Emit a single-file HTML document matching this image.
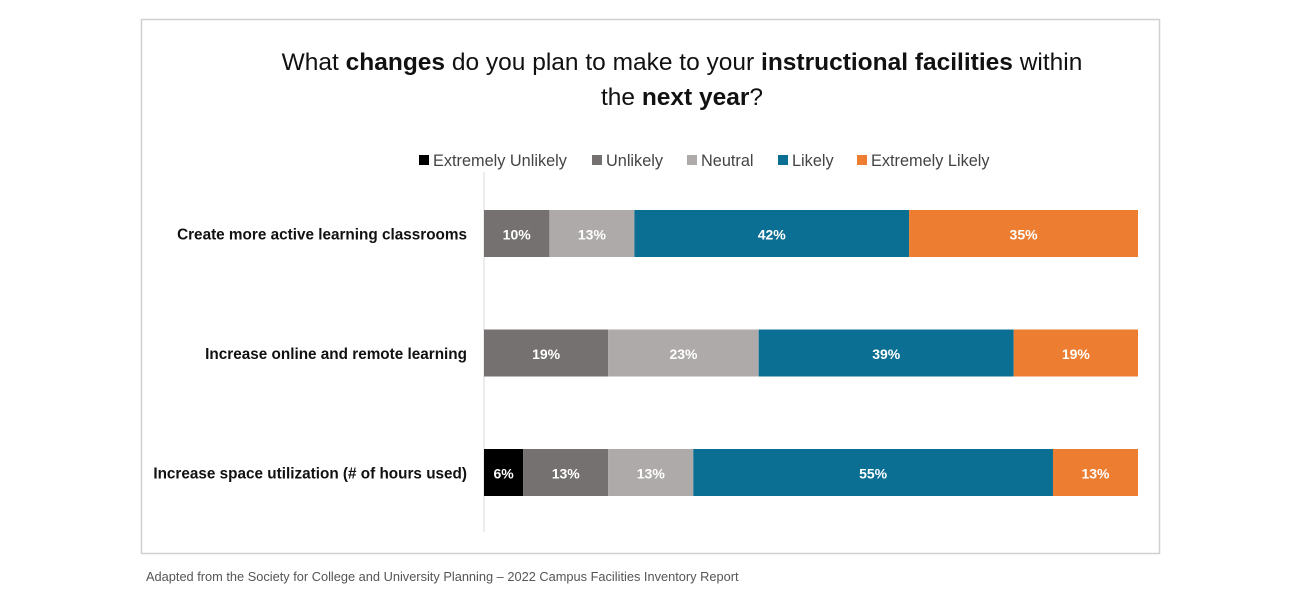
<!DOCTYPE html>
<html><head><meta charset="utf-8"><style>
body{margin:0;width:1300px;height:600px;background:#fff;font-family:"Liberation Sans",sans-serif;overflow:hidden}
</style></head><body>
<svg id="c" width="1300" height="600" xmlns="http://www.w3.org/2000/svg">
<rect x="141.5" y="19.5" width="1018" height="534" fill="#fff" stroke="#d0d0d0" stroke-width="1.5"/>
<text x="682" y="70" text-anchor="middle" font-size="24.5" fill="#111">What <tspan font-weight="bold">changes</tspan> do you plan to make to your <tspan font-weight="bold">instructional facilities</tspan> within</text>
<text x="682" y="105" text-anchor="middle" font-size="24.5" fill="#111">the <tspan font-weight="bold">next year</tspan>?</text>
<line x1="484" y1="172" x2="484" y2="532" stroke="#d9d9d9" stroke-width="1"/>
<text x="146" y="581" font-size="12.8" fill="#555">Adapted from the Society for College and University Planning – 2022 Campus Facilities Inventory Report</text>
<g id="legend"></g><g id="bars"></g>
</svg>
<script>
const categories=["Create more active learning classrooms","Increase online and remote learning","Increase space utilization (# of hours used)"];
const seriesNames=["Extremely Unlikely","Unlikely","Neutral","Likely","Extremely Likely"];
const extremelyUnlikely=[0,0,6];
const unlikely=[10,19,13];
const neutral=[13,23,13];
const likely=[42,39,55];
const extremelyLikely=[35,19,13];
const colors=["#000000","#767171","#aeaaaa","#0a6f93","#ed7d31"];
const series=[extremelyUnlikely,unlikely,neutral,likely,extremelyLikely];
const NS="http://www.w3.org/2000/svg";
const x0=484,plotW=654;
const xs=v=>v/100*plotW;
const yRow=i=>210+i*119.5;
const bh=47;
const bars=document.getElementById('bars');
function mk(tag,attrs,p){const e=document.createElementNS(NS,tag);for(const k in attrs)e.setAttribute(k,attrs[k]);p.appendChild(e);return e;}
categories.forEach((c,i)=>{
  const t=mk('text',{x:467,y:yRow(i)+bh/2+6,'text-anchor':'end','font-size':15.3,'font-weight':'bold',fill:'#111'},bars);
  t.textContent=c;
  
  
  let tot=0;
  series.forEach((s,j)=>{
    const v=s[i];
    if(v>0){
      const r=mk('rect',{x:x0+xs(tot),y:yRow(i),width:xs(v),height:bh,fill:colors[j]},bars);
      
      
      const l=mk('text',{x:x0+xs(tot+v/2),y:yRow(i)+bh/2+6,'text-anchor':'middle','font-size':14,'font-weight':'bold',fill:'#fff'},bars);
      l.textContent=v+'%';
      
      
    }
    tot+=v;
  });
});
const lg=document.getElementById('legend');
const legX=[419,592,687,778,857];
seriesNames.forEach((n,j)=>{
  const r=mk('rect',{x:legX[j],y:155,width:10,height:10,fill:colors[j]},lg);
  
  
  const t=mk('text',{x:legX[j]+14,y:166,'font-size':16.3,fill:'#444'},lg);
  t.textContent=n;
  
  
});
</script>
</body></html>
